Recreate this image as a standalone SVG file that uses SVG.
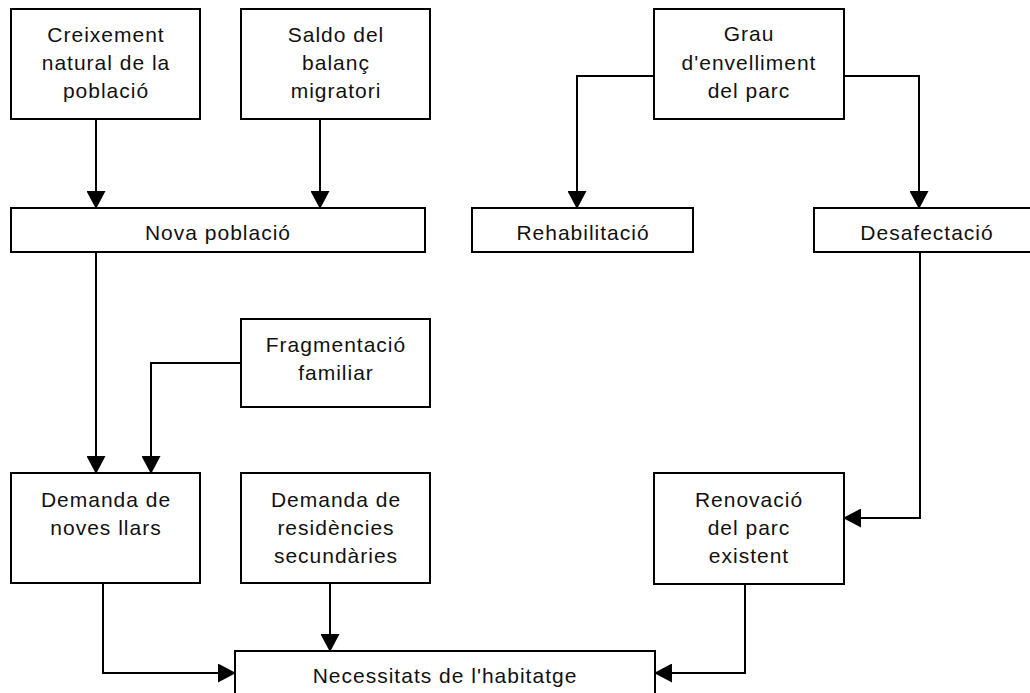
<svg xmlns="http://www.w3.org/2000/svg" width="1030" height="693" viewBox="0 0 1030 693">
<style>
.box{fill:#fff;stroke:#000;stroke-width:2}
.lbl{font-family:"Liberation Sans",Arial,sans-serif;font-size:21px;letter-spacing:1px;fill:#111;text-anchor:middle}
.con{fill:none;stroke:#000;stroke-width:2}
</style>
<defs>
<marker id="ah" viewBox="0 0 18 19" refX="17" refY="9.5" markerWidth="18" markerHeight="19" markerUnits="userSpaceOnUse" orient="auto">
<path d="M0,0 L18,9.5 L0,19 z" fill="#000"/>
</marker>
</defs>
<rect width="1030" height="693" fill="#fff"/>
<g id="connectors">
<path class="con" d="M96,119 V208" marker-end="url(#ah)"/>
<path class="con" d="M320,119 V208" marker-end="url(#ah)"/>
<path class="con" d="M654,76 H577 V208" marker-end="url(#ah)"/>
<path class="con" d="M844,76 H919 V208" marker-end="url(#ah)"/>
<path class="con" d="M96,252 V473" marker-end="url(#ah)"/>
<path class="con" d="M241,363 H151 V473" marker-end="url(#ah)"/>
<path class="con" d="M920,252 V518 H844" marker-end="url(#ah)"/>
<path class="con" d="M103,583 V673 H235" marker-end="url(#ah)"/>
<path class="con" d="M330,583 V651" marker-end="url(#ah)"/>
<path class="con" d="M745,584 V673 H655" marker-end="url(#ah)"/>
</g>
<g id="creixement">
<rect class="box" x="11" y="9" width="189" height="110"/>
<text class="lbl" x="106" y="42">Creixement</text>
<text class="lbl" x="106" y="70">natural de la</text>
<text class="lbl" x="106" y="98">població</text>
</g>
<g id="saldo">
<rect class="box" x="241" y="9" width="189" height="110"/>
<text class="lbl" x="336" y="42">Saldo del</text>
<text class="lbl" x="336" y="70">balanç</text>
<text class="lbl" x="336" y="98">migratori</text>
</g>
<g id="grau">
<rect class="box" x="654" y="9" width="190" height="110"/>
<text class="lbl" x="749" y="41">Grau</text>
<text class="lbl" x="749" y="70">d'envelliment</text>
<text class="lbl" x="749" y="98">del parc</text>
</g>
<g id="nova">
<rect class="box" x="11" y="208" width="414" height="44"/>
<text class="lbl" x="218" y="240">Nova població</text>
</g>
<g id="rehabilitacio">
<rect class="box" x="472" y="208" width="221" height="44"/>
<text class="lbl" x="583" y="240">Rehabilitació</text>
</g>
<g id="desafectacio">
<rect class="box" x="814" y="208" width="226" height="44"/>
<text class="lbl" x="927" y="240">Desafectació</text>
</g>
<g id="fragmentacio">
<rect class="box" x="241" y="319" width="189" height="88"/>
<text class="lbl" x="336" y="352">Fragmentació</text>
<text class="lbl" x="336" y="380">familiar</text>
</g>
<g id="demanda-llars">
<rect class="box" x="11" y="473" width="189" height="110"/>
<text class="lbl" x="106" y="507">Demanda de</text>
<text class="lbl" x="106" y="535">noves llars</text>
</g>
<g id="demanda-residencies">
<rect class="box" x="241" y="473" width="189" height="110"/>
<text class="lbl" x="336" y="507">Demanda de</text>
<text class="lbl" x="336" y="535">residències</text>
<text class="lbl" x="336" y="563">secundàries</text>
</g>
<g id="renovacio">
<rect class="box" x="654" y="473" width="190" height="111"/>
<text class="lbl" x="749" y="507">Renovació</text>
<text class="lbl" x="749" y="535">del parc</text>
<text class="lbl" x="749" y="563">existent</text>
</g>
<g id="necessitats">
<rect class="box" x="235" y="651" width="420" height="60"/>
<text class="lbl" x="445" y="683">Necessitats de l'habitatge</text>
</g>
</svg>
